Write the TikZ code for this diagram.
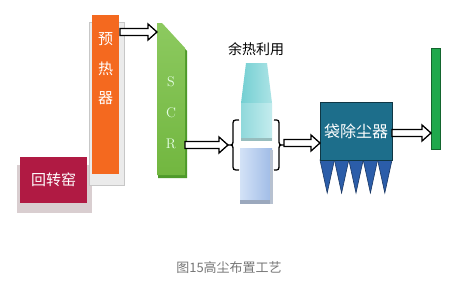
\documentclass[tikz,border=0pt]{standalone}
\usepackage{fontspec}
\newfontfamily\cjk{Noto Sans CJK SC}
\usetikzlibrary{calc}
\definecolor{kilnc}{HTML}{B01A43}
\definecolor{prec}{HTML}{F4691F}
\definecolor{scrc}{HTML}{78C043}
\definecolor{scrd}{HTML}{4E9A2A}
\definecolor{cyanc}{HTML}{74CFD2}
\definecolor{cyanl}{HTML}{C4ECEE}
\definecolor{bluec}{HTML}{9FBBE6}
\definecolor{bluel}{HTML}{D3E2F7}
\definecolor{bagc}{HTML}{1D6E8B}
\definecolor{hopc}{HTML}{2B5DA9}
\definecolor{chimc}{HTML}{1FA84C}
\definecolor{capc}{HTML}{777777}
\definecolor{kshadow}{HTML}{D9CED0}
\tikzset{
  boxtext/.style={text=white,font=\cjk\fontsize{15}{15}\selectfont,inner sep=0pt},
  scrtext/.style={text=white!90!green,font=\fontsize{14}{14}\selectfont,inner sep=0pt},
  shadowbox/.style={draw=black!22,fill=black!8,line width=0.6pt},
  arrowline/.style={draw=black,fill=white,line width=1.3pt,line join=miter},
  bracel/.style={draw=black,line width=1.3pt},
}
\newcommand\hollowarrow[2]{\draw[arrowline] let \p1=(#1), \p2=(#2) in
  (\x1,\y1+3.5pt) -- (\x2-9pt,\y1+3.5pt) -- (\x2-9pt,\y1+8pt) -- (\x2,\y1)
  -- (\x2-9pt,\y1-8pt) -- (\x2-9pt,\y1-3.5pt) -- (\x1,\y1-3.5pt) -- cycle;}
\begin{document}
\begin{tikzpicture}[x=1pt,y=-1pt]
\useasboundingbox[fill=white] (0,0) rectangle (462,281);
% shadows
\fill[kshadow] (17,165) rectangle (92,213);
\draw[shadowbox] (89,22) rectangle (124,185);
% preheater
\node[fill=prec,minimum width=27pt,minimum height=159pt,inner sep=0pt] (pre) at (105.5,94.5) {};
\node[boxtext] (pre1) at (105.5,39) {预};
\node[boxtext] (pre2) at (105.5,69) {热};
\node[boxtext] (pre3) at (105.5,98) {器};
% kiln
\node[fill=kilnc,minimum width=67pt,minimum height=46pt,inner sep=0pt,boxtext] (kiln) at (53.5,180) {回转窑};
% SCR
\fill[scrd] (158,26) -- (163,26) -- (187,51) -- (187,178) -- (158,178) -- cycle;
\shade[top color=scrc!85!white,bottom color=scrc!95!black] (157,23) -- (162,23) -- (185,48) -- (185,175) -- (157,175) -- cycle;
\node[scrtext] (scrS) at (171,82) {S};
\node[scrtext] (scrC) at (171,113) {C};
\node[scrtext] (scrR) at (171,144) {R};
\coordinate (scrtop) at (157,32);
\coordinate (scrout) at (185,145);
\coordinate (preout) at (120,32);
% waste heat blocks
\node[font=\cjk\fontsize{14}{14}\selectfont,inner sep=0pt] (heat) at (256,49) {余热利用};
\shade[left color=cyanc,right color=cyanl!70!cyanc] (246,63) -- (267,63) -- (272,103) -- (241,103) -- cycle;
\shade[left color=cyanc!80!white,right color=cyanl] (241,103) rectangle (272,140);
\fill[cyanc!70!black!60] (241,138) rectangle (272,141);
\shade[left color=bluel,right color=bluec] (240,148) rectangle (272,202);
\fill[bluec!70!black!70] (240,200) rectangle (272,204);
\fill[bluec!70!black!50] (270,150) rectangle (273,204);
% braces
\coordinate (bl) at (228,145);
\coordinate (br) at (284,145);
\draw[bracel] (239,120) .. controls (233,120) .. (233,126) -- (233,139) .. controls (233,145) .. (bl)
  .. controls (233,145) .. (233,151) -- (233,164) .. controls (233,170) .. (239,170);
\draw[bracel] (274,120) .. controls (279,120) .. (279,126) -- (279,139) .. controls (279,145) .. (br)
  .. controls (279,145) .. (279,151) -- (279,164) .. controls (279,170) .. (274,170);
% baghouse
\foreach \i in {0,...,4}{
  \fill[hopc,draw=hopc!60!black,line width=0.6pt] ({320+14.4*\i},160) -- ({320+14.4*(\i+1)},160) -- ({320+14.4*\i+7.2},193) -- cycle;
}
\node[fill=bagc,draw=bagc!50!black,line width=0.8pt,minimum width=72pt,minimum height=58pt,inner sep=0pt,boxtext,font=\cjk\fontsize{16}{16}\selectfont] (bag) at (356,131) {袋除尘器};
% chimney
\node[fill=chimc,draw=chimc!60!black,line width=0.6pt,minimum width=9pt,minimum height=101pt,inner sep=0pt] (chim) at (435.5,98.5) {};
\coordinate (bagin) at (320,143);
\coordinate (brout) at (284,143);
\coordinate (bagout) at (392,133);
\coordinate (chimin) at (431,133);
% arrows
\hollowarrow{preout}{scrtop}
\hollowarrow{scrout}{bl}
\hollowarrow{brout}{bagin}
\hollowarrow{bagout}{chimin}
% caption
\node[text=capc,font=\cjk\fontsize{13}{13}\selectfont,inner sep=0pt] (cap) at (229,268) {图15高尘布置工艺};
\end{tikzpicture}
\end{document}
